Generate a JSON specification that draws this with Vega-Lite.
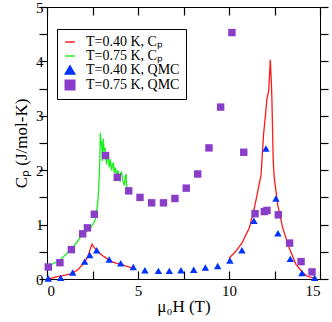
{
  "$schema": "https://vega.github.io/schema/vega-lite/v6.json",
  "width": 273,
  "height": 272,
  "autosize": "none",
  "padding": {"left": 47, "top": 7, "right": 12, "bottom": 43},
  "background": "white",
  "config": {
    "font": "Liberation Serif",
    "view": {"stroke": "black", "strokeWidth": 1},
    "axis": {"domain": false, "grid": false, "ticks": true, "zindex": 1, "tickColor": "#000000", "tickWidth": 1.2, "tickOpacity": 1, "labelFont": "Liberation Serif", "labelFontSize": 15, "labelColor": "black", "titleFont": "Liberation Serif", "titleFontSize": 17, "titleFontWeight": "normal", "titleColor": "black"}
  },
  "datasets": {
    "lines": [
      {"x": 0.0, "y": 0.0, "series": "T=0.40 K, Cₚ", "seg": "r1"},
      {"x": 0.3, "y": 0.02, "series": "T=0.40 K, Cₚ", "seg": "r1"},
      {"x": 0.62, "y": 0.05, "series": "T=0.40 K, Cₚ", "seg": "r1"},
      {"x": 1.0, "y": 0.07, "series": "T=0.40 K, Cₚ", "seg": "r1"},
      {"x": 1.35, "y": 0.1, "series": "T=0.40 K, Cₚ", "seg": "r1"},
      {"x": 1.7, "y": 0.17, "series": "T=0.40 K, Cₚ", "seg": "r1"},
      {"x": 2.09, "y": 0.32, "series": "T=0.40 K, Cₚ", "seg": "r1"},
      {"x": 2.25, "y": 0.42, "series": "T=0.40 K, Cₚ", "seg": "r1"},
      {"x": 2.36, "y": 0.53, "series": "T=0.40 K, Cₚ", "seg": "r1"},
      {"x": 2.47, "y": 0.64, "series": "T=0.40 K, Cₚ", "seg": "r1"},
      {"x": 2.55, "y": 0.6, "series": "T=0.40 K, Cₚ", "seg": "r1"},
      {"x": 2.64, "y": 0.56, "series": "T=0.40 K, Cₚ", "seg": "r1"},
      {"x": 2.8, "y": 0.5, "series": "T=0.40 K, Cₚ", "seg": "r1"},
      {"x": 3.0, "y": 0.44, "series": "T=0.40 K, Cₚ", "seg": "r1"},
      {"x": 3.28, "y": 0.38, "series": "T=0.40 K, Cₚ", "seg": "r1"},
      {"x": 3.55, "y": 0.32, "series": "T=0.40 K, Cₚ", "seg": "r1"},
      {"x": 3.8, "y": 0.29, "series": "T=0.40 K, Cₚ", "seg": "r1"},
      {"x": 4.1, "y": 0.27, "series": "T=0.40 K, Cₚ", "seg": "r1"},
      {"x": 4.4, "y": 0.23, "series": "T=0.40 K, Cₚ", "seg": "r1"},
      {"x": 4.69, "y": 0.2, "series": "T=0.40 K, Cₚ", "seg": "r1"},
      {"x": 4.85, "y": 0.19, "series": "T=0.40 K, Cₚ", "seg": "r1"},
      {"x": 10.0, "y": 0.38, "series": "T=0.40 K, Cₚ", "seg": "r2"},
      {"x": 10.35, "y": 0.5, "series": "T=0.40 K, Cₚ", "seg": "r2"},
      {"x": 10.71, "y": 0.66, "series": "T=0.40 K, Cₚ", "seg": "r2"},
      {"x": 11.12, "y": 0.94, "series": "T=0.40 K, Cₚ", "seg": "r2"},
      {"x": 11.39, "y": 1.3, "series": "T=0.40 K, Cₚ", "seg": "r2"},
      {"x": 11.58, "y": 1.61, "series": "T=0.40 K, Cₚ", "seg": "r2"},
      {"x": 11.76, "y": 1.91, "series": "T=0.40 K, Cₚ", "seg": "r2"},
      {"x": 11.9, "y": 2.66, "series": "T=0.40 K, Cₚ", "seg": "r2"},
      {"x": 12.0, "y": 3.0, "series": "T=0.40 K, Cₚ", "seg": "r2"},
      {"x": 12.09, "y": 3.33, "series": "T=0.40 K, Cₚ", "seg": "r2"},
      {"x": 12.18, "y": 3.45, "series": "T=0.40 K, Cₚ", "seg": "r2"},
      {"x": 12.27, "y": 4.03, "series": "T=0.40 K, Cₚ", "seg": "r2"},
      {"x": 12.33, "y": 3.6, "series": "T=0.40 K, Cₚ", "seg": "r2"},
      {"x": 12.36, "y": 3.27, "series": "T=0.40 K, Cₚ", "seg": "r2"},
      {"x": 12.43, "y": 2.17, "series": "T=0.40 K, Cₚ", "seg": "r2"},
      {"x": 12.49, "y": 1.85, "series": "T=0.40 K, Cₚ", "seg": "r2"},
      {"x": 12.68, "y": 1.36, "series": "T=0.40 K, Cₚ", "seg": "r2"},
      {"x": 12.95, "y": 0.94, "series": "T=0.40 K, Cₚ", "seg": "r2"},
      {"x": 13.31, "y": 0.57, "series": "T=0.40 K, Cₚ", "seg": "r2"},
      {"x": 13.68, "y": 0.27, "series": "T=0.40 K, Cₚ", "seg": "r2"},
      {"x": 14.05, "y": 0.12, "series": "T=0.40 K, Cₚ", "seg": "r2"},
      {"x": 14.3, "y": 0.05, "series": "T=0.40 K, Cₚ", "seg": "r2"},
      {"x": 14.6, "y": 0.02, "series": "T=0.40 K, Cₚ", "seg": "r2"},
      {"x": 14.75, "y": 0.0, "series": "T=0.40 K, Cₚ", "seg": "r2"},
      {"x": 0.0, "y": 0.22, "series": "T=0.75 K, Cₚ", "seg": "g"},
      {"x": 0.07, "y": 0.24, "series": "T=0.75 K, Cₚ", "seg": "g"},
      {"x": 0.4, "y": 0.29, "series": "T=0.75 K, Cₚ", "seg": "g"},
      {"x": 0.71, "y": 0.35, "series": "T=0.75 K, Cₚ", "seg": "g"},
      {"x": 1.0, "y": 0.44, "series": "T=0.75 K, Cₚ", "seg": "g"},
      {"x": 1.36, "y": 0.56, "series": "T=0.75 K, Cₚ", "seg": "g"},
      {"x": 1.65, "y": 0.68, "series": "T=0.75 K, Cₚ", "seg": "g"},
      {"x": 1.9, "y": 0.8, "series": "T=0.75 K, Cₚ", "seg": "g"},
      {"x": 2.15, "y": 0.87, "series": "T=0.75 K, Cₚ", "seg": "g"},
      {"x": 2.36, "y": 0.92, "series": "T=0.75 K, Cₚ", "seg": "g"},
      {"x": 2.55, "y": 1.02, "series": "T=0.75 K, Cₚ", "seg": "g"},
      {"x": 2.64, "y": 1.08, "series": "T=0.75 K, Cₚ", "seg": "g"},
      {"x": 2.72, "y": 1.22, "series": "T=0.75 K, Cₚ", "seg": "g"},
      {"x": 2.78, "y": 1.38, "series": "T=0.75 K, Cₚ", "seg": "g"},
      {"x": 2.83, "y": 1.6, "series": "T=0.75 K, Cₚ", "seg": "g"},
      {"x": 2.86, "y": 1.81, "series": "T=0.75 K, Cₚ", "seg": "g"},
      {"x": 2.91, "y": 2.29, "series": "T=0.75 K, Cₚ", "seg": "g"},
      {"x": 2.93, "y": 2.69, "series": "T=0.75 K, Cₚ", "seg": "g"},
      {"x": 2.97, "y": 2.45, "series": "T=0.75 K, Cₚ", "seg": "g"},
      {"x": 3.0, "y": 2.54, "series": "T=0.75 K, Cₚ", "seg": "g"},
      {"x": 3.04, "y": 2.17, "series": "T=0.75 K, Cₚ", "seg": "g"},
      {"x": 3.1, "y": 2.58, "series": "T=0.75 K, Cₚ", "seg": "g"},
      {"x": 3.13, "y": 2.35, "series": "T=0.75 K, Cₚ", "seg": "g"},
      {"x": 3.19, "y": 2.41, "series": "T=0.75 K, Cₚ", "seg": "g"},
      {"x": 3.24, "y": 2.2, "series": "T=0.75 K, Cₚ", "seg": "g"},
      {"x": 3.28, "y": 2.11, "series": "T=0.75 K, Cₚ", "seg": "g"},
      {"x": 3.33, "y": 2.32, "series": "T=0.75 K, Cₚ", "seg": "g"},
      {"x": 3.37, "y": 2.26, "series": "T=0.75 K, Cₚ", "seg": "g"},
      {"x": 3.42, "y": 2.05, "series": "T=0.75 K, Cₚ", "seg": "g"},
      {"x": 3.48, "y": 2.2, "series": "T=0.75 K, Cₚ", "seg": "g"},
      {"x": 3.55, "y": 1.99, "series": "T=0.75 K, Cₚ", "seg": "g"},
      {"x": 3.6, "y": 2.1, "series": "T=0.75 K, Cₚ", "seg": "g"},
      {"x": 3.64, "y": 2.14, "series": "T=0.75 K, Cₚ", "seg": "g"},
      {"x": 3.7, "y": 1.95, "series": "T=0.75 K, Cₚ", "seg": "g"},
      {"x": 3.76, "y": 2.05, "series": "T=0.75 K, Cₚ", "seg": "g"},
      {"x": 3.83, "y": 1.9, "series": "T=0.75 K, Cₚ", "seg": "g"},
      {"x": 3.9, "y": 2.0, "series": "T=0.75 K, Cₚ", "seg": "g"},
      {"x": 3.95, "y": 1.85, "series": "T=0.75 K, Cₚ", "seg": "g"},
      {"x": 4.01, "y": 1.81, "series": "T=0.75 K, Cₚ", "seg": "g"},
      {"x": 4.05, "y": 1.95, "series": "T=0.75 K, Cₚ", "seg": "g"},
      {"x": 4.1, "y": 1.96, "series": "T=0.75 K, Cₚ", "seg": "g"},
      {"x": 4.17, "y": 1.8, "series": "T=0.75 K, Cₚ", "seg": "g"},
      {"x": 4.25, "y": 1.72, "series": "T=0.75 K, Cₚ", "seg": "g"},
      {"x": 4.3, "y": 1.88, "series": "T=0.75 K, Cₚ", "seg": "g"},
      {"x": 4.34, "y": 1.93, "series": "T=0.75 K, Cₚ", "seg": "g"},
      {"x": 4.38, "y": 1.7, "series": "T=0.75 K, Cₚ", "seg": "g"},
      {"x": 4.43, "y": 1.56, "series": "T=0.75 K, Cₚ", "seg": "g"}
    ],
    "points": [
      {"x": 0.07, "y": 0.22, "series": "T=0.75 K, QMC"},
      {"x": 0.71, "y": 0.3, "series": "T=0.75 K, QMC"},
      {"x": 1.34, "y": 0.54, "series": "T=0.75 K, QMC"},
      {"x": 1.96, "y": 0.83, "series": "T=0.75 K, QMC"},
      {"x": 2.22, "y": 0.94, "series": "T=0.75 K, QMC"},
      {"x": 2.6, "y": 1.19, "series": "T=0.75 K, QMC"},
      {"x": 3.22, "y": 2.27, "series": "T=0.75 K, QMC"},
      {"x": 3.86, "y": 1.87, "series": "T=0.75 K, QMC"},
      {"x": 4.49, "y": 1.62, "series": "T=0.75 K, QMC"},
      {"x": 5.11, "y": 1.5, "series": "T=0.75 K, QMC"},
      {"x": 5.75, "y": 1.4, "series": "T=0.75 K, QMC"},
      {"x": 6.4, "y": 1.4, "series": "T=0.75 K, QMC"},
      {"x": 7.03, "y": 1.48, "series": "T=0.75 K, QMC"},
      {"x": 7.65, "y": 1.67, "series": "T=0.75 K, QMC"},
      {"x": 8.28, "y": 1.93, "series": "T=0.75 K, QMC"},
      {"x": 8.9, "y": 2.41, "series": "T=0.75 K, QMC"},
      {"x": 9.54, "y": 3.16, "series": "T=0.75 K, QMC"},
      {"x": 10.16, "y": 4.53, "series": "T=0.75 K, QMC"},
      {"x": 10.81, "y": 2.33, "series": "T=0.75 K, QMC"},
      {"x": 11.43, "y": 1.2, "series": "T=0.75 K, QMC"},
      {"x": 11.94, "y": 1.24, "series": "T=0.75 K, QMC"},
      {"x": 12.09, "y": 1.26, "series": "T=0.75 K, QMC"},
      {"x": 12.71, "y": 1.18, "series": "T=0.75 K, QMC"},
      {"x": 13.33, "y": 0.66, "series": "T=0.75 K, QMC"},
      {"x": 13.96, "y": 0.32, "series": "T=0.75 K, QMC"},
      {"x": 14.56, "y": 0.13, "series": "T=0.75 K, QMC"},
      {"x": 0.07, "y": 0.01, "series": "T=0.40 K, QMC"},
      {"x": 0.75, "y": 0.02, "series": "T=0.40 K, QMC"},
      {"x": 1.41, "y": 0.12, "series": "T=0.40 K, QMC"},
      {"x": 2.07, "y": 0.32, "series": "T=0.40 K, QMC"},
      {"x": 2.35, "y": 0.44, "series": "T=0.40 K, QMC"},
      {"x": 2.73, "y": 0.53, "series": "T=0.40 K, QMC"},
      {"x": 3.42, "y": 0.36, "series": "T=0.40 K, QMC"},
      {"x": 4.05, "y": 0.29, "series": "T=0.40 K, QMC"},
      {"x": 4.74, "y": 0.22, "series": "T=0.40 K, QMC"},
      {"x": 5.38, "y": 0.16, "series": "T=0.40 K, QMC"},
      {"x": 6.12, "y": 0.15, "series": "T=0.40 K, QMC"},
      {"x": 6.72, "y": 0.15, "series": "T=0.40 K, QMC"},
      {"x": 7.36, "y": 0.16, "series": "T=0.40 K, QMC"},
      {"x": 8.06, "y": 0.17, "series": "T=0.40 K, QMC"},
      {"x": 8.7, "y": 0.21, "series": "T=0.40 K, QMC"},
      {"x": 9.38, "y": 0.24, "series": "T=0.40 K, QMC"},
      {"x": 10.05, "y": 0.34, "series": "T=0.40 K, QMC"},
      {"x": 10.71, "y": 0.53, "series": "T=0.40 K, QMC"},
      {"x": 11.37, "y": 1.07, "series": "T=0.40 K, QMC"},
      {"x": 12.03, "y": 2.4, "series": "T=0.40 K, QMC"},
      {"x": 12.58, "y": 1.48, "series": "T=0.40 K, QMC"},
      {"x": 12.69, "y": 0.84, "series": "T=0.40 K, QMC"},
      {"x": 13.37, "y": 0.37, "series": "T=0.40 K, QMC"},
      {"x": 14.01, "y": 0.11, "series": "T=0.40 K, QMC"},
      {"x": 14.71, "y": 0.02, "series": "T=0.40 K, QMC"}
    ]
  },
  "layer": [
    {
      "data": {"name": "lines"},
      "mark": {"type": "line", "strokeWidth": 1.3},
      "encoding": {
        "x": {"field": "x", "type": "quantitative", "scale": {"domain": [0, 15], "nice": false},
              "axis": {"orient": "bottom", "values": [0, 2.5, 5, 7.5, 10, 12.5, 15], "labelExpr": "datum.value % 5 === 0 ? format(datum.value, 'd') : ''", "tickSize": -8, "labelPadding": 12, "title": "μ₀H (T)", "titlePadding": 0}},
        "y": {"field": "y", "type": "quantitative", "scale": {"domain": [0, 5], "nice": false},
              "axis": {"orient": "left", "values": [0, 0.5, 1, 1.5, 2, 2.5, 3, 3.5, 4, 4.5, 5], "labelExpr": "datum.value % 1 === 0 ? format(datum.value, 'd') : ''", "tickSize": 8,
                       "labelPadding": -4, "title": "Cₚ (J/mol-K)", "titlePadding": 5,
                       "encode": {"ticks": {"update": {"x2": {"signal": "datum.value % 1 === 0 ? 8 : 4"}}}}}},
        "color": {"field": "series", "type": "nominal",
                  "scale": {"domain": ["T=0.40 K, Cₚ", "T=0.75 K, Cₚ", "T=0.40 K, QMC", "T=0.75 K, QMC"], "range": ["#ff1a1a", "#1aee1a", "#0033ff", "#8a3dc8"]},
                  "legend": {"orient": "none", "legendX": 10, "legendY": 22, "title": null, "strokeColor": "black", "fillColor": "white", "padding": 6, "labelFont": "Liberation Serif", "labelFontSize": 14, "labelColor": "black", "labelOffset": 9, "rowPadding": -3, "symbolSize": 90}},
        "detail": {"field": "seg"}
      }
    },
    {
      "data": {"name": "points"},
      "mark": {"type": "point", "filled": true, "opacity": 1, "size": 55},
      "encoding": {
        "x": {"field": "x", "type": "quantitative",
              "axis": {"orient": "top", "values": [0, 2.5, 5, 7.5, 10, 12.5, 15], "labels": false, "title": null, "tickSize": -8}},
        "y": {"field": "y", "type": "quantitative",
              "axis": {"orient": "right", "values": [0, 0.5, 1, 1.5, 2, 2.5, 3, 3.5, 4, 4.5, 5], "labels": false, "title": null, "tickSize": 8,
                       "encode": {"ticks": {"update": {"x2": {"signal": "datum.value % 1 === 0 ? -8 : -4"}}}}}},
        "color": {"field": "series", "type": "nominal"},
        "shape": {"field": "series", "type": "nominal",
                  "scale": {"domain": ["T=0.40 K, Cₚ", "T=0.75 K, Cₚ", "T=0.40 K, QMC", "T=0.75 K, QMC"], "range": ["stroke", "stroke", "triangle-up", "square"]}}
      }
    }
  ],
  "resolve": {"axis": {"x": "independent", "y": "independent"}}
}
